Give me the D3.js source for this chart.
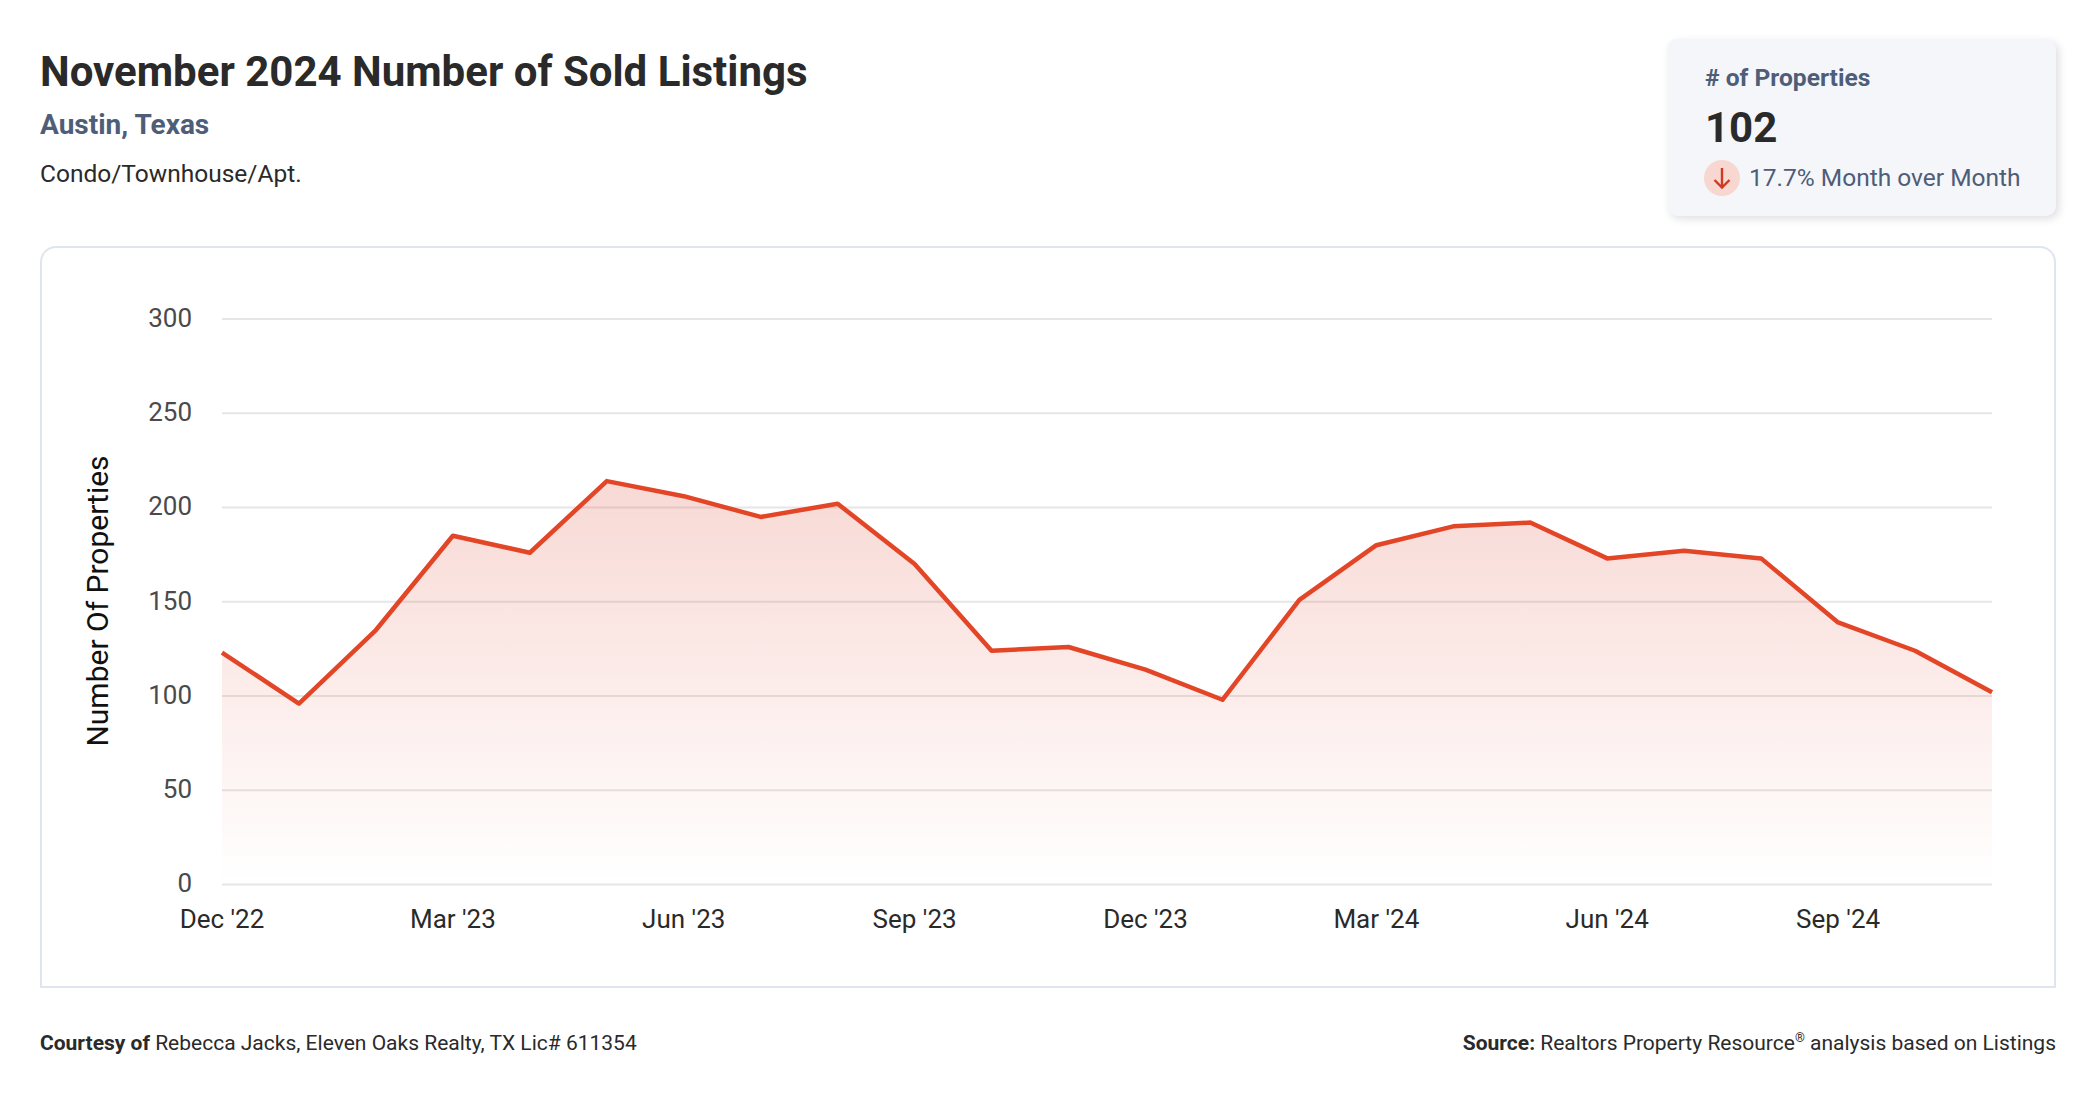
<!DOCTYPE html>
<html><head><meta charset="utf-8">
<script src="https://cdn.jsdelivr.net/npm/d3@7/dist/d3.min.js"></script>
<style>
html,body{margin:0;padding:0;background:#fff;width:2096px;height:1100px;overflow:hidden;font-family:Roboto,sans-serif}
.abs{position:absolute;white-space:nowrap}
#kpi{left:1667px;top:39px;width:389px;height:177px;background:#f5f6fa;border-radius:10px;box-shadow:3px 3px 8px rgba(0,0,0,.13)}
#frame{left:40px;top:246px;width:2012px;height:738px;border:2px solid #dfe4ee;border-radius:16px 16px 0 0}
svg{position:absolute;left:0;top:0}
</style></head><body>
<div class="abs" style="left:40px;top:48px;font-size:42px;font-weight:700;color:#2a2a2a;line-height:48px">November 2024 Number of Sold Listings</div>
<div class="abs" style="left:40px;top:109px;font-size:28px;font-weight:700;color:#4e5d78;line-height:32px">Austin, Texas</div>
<div class="abs" style="left:40px;top:160px;font-size:24.5px;color:#2a2a2a;line-height:28px">Condo/Townhouse/Apt.</div>
<div class="abs" id="kpi"></div>
<div class="abs" style="left:1705px;top:63px;font-size:24.6px;font-weight:700;color:#4e5d78;line-height:30px"># of Properties</div>
<div class="abs" style="left:1705px;top:104px;font-size:42px;font-weight:700;color:#2a2a2a;line-height:48px">102</div>
<div class="abs" style="left:1704px;top:160px;width:36px;height:36px;border-radius:50%;background:#f8d7d1"></div>
<div class="abs" style="left:1749px;top:163px;font-size:24.5px;color:#4e5d78;line-height:30px">17.7% Month over Month</div>
<div class="abs" id="frame"></div>
<div class="abs" style="left:40px;top:1031px;font-size:21px;color:#2a2a2a;line-height:24px"><b>Courtesy of</b> Rebecca Jacks, Eleven Oaks Realty, TX Lic# 611354</div>
<div class="abs" style="right:40px;top:1031px;font-size:21px;color:#2a2a2a;line-height:24px"><b>Source:</b> Realtors Property Resource<sup style="font-size:12.6px;line-height:0">®</sup> analysis based on Listings</div>
<svg id="c" width="2096" height="1100"></svg>
<script>
const months = ["Dec '22","Jan '23","Feb '23","Mar '23","Apr '23","May '23","Jun '23","Jul '23","Aug '23","Sep '23","Oct '23","Nov '23","Dec '23","Jan '24","Feb '24","Mar '24","Apr '24","May '24","Jun '24","Jul '24","Aug '24","Sep '24","Oct '24","Nov '24"];
const sold = [123,96,135,185,176,214,206,195,202,170,124,126,114,98,151,180,190,192,173,177,173,139,124,102];
const yTicks = [0,50,100,150,200,250,300];
const xTickLabels = ["Dec '22","Mar '23","Jun '23","Sep '23","Dec '23","Mar '24","Jun '24","Sep '24"];
const yLabel = "Number Of Properties";

const svg = d3.select("#c");
const x = d3.scalePoint().domain(months).range([222,1992]);
const y = d3.scaleLinear().domain([0,300]).range([884.5,319]);

const grad = svg.append("defs").append("linearGradient").attr("id","g")
  .attr("gradientUnits","userSpaceOnUse").attr("x1",0).attr("x2",0).attr("y1",y(214)).attr("y2",y(0));
grad.append("stop").attr("offset",0).attr("stop-color","#d9402a").attr("stop-opacity",.2);
grad.append("stop").attr("offset",1).attr("stop-color","#e2402a").attr("stop-opacity",0);

const gy = svg.append("g").attr("transform","translate(222,0)")
  .call(d3.axisLeft(y).offset(0).tickValues(yTicks).tickSize(-1770).tickPadding(30));
gy.select(".domain").remove();
gy.selectAll(".tick line").attr("stroke","#e6e6e6").attr("stroke-width",2);
gy.selectAll("text").attr("font-family","Roboto").attr("font-size",26).attr("fill","#4a4a4a").attr("dy","0.3em");

const gx = svg.append("g").attr("transform","translate(0,886)")
  .call(d3.axisBottom(x).offset(0).tickValues(xTickLabels).tickSize(0).tickPadding(24));
gx.select(".domain").remove();
gx.selectAll("text").attr("font-family","Roboto").attr("font-size",26).attr("fill","#2a2a2a");

svg.append("path").datum(sold).attr("fill","url(#g)")
  .attr("d",d3.area().x((d,i)=>x(months[i])).y0(y(0)).y1(d=>y(d)));
svg.append("path").datum(sold).attr("fill","none").attr("stroke","#e34527").attr("stroke-width",4.5).attr("stroke-linejoin","round")
  .attr("d",d3.line().x((d,i)=>x(months[i])).y(d=>y(d)));

svg.append("text").attr("transform","translate(100,601) rotate(-90)").attr("text-anchor","middle")
  .attr("font-family","Roboto").attr("font-size",30).attr("fill","#111").attr("dominant-baseline","middle").text(yLabel);

svg.append("path").attr("d","M1722 168V187M1714.5 180L1722 187.5L1729.5 180").attr("fill","none").attr("stroke","#cf3a22").attr("stroke-width",2.4);
</script>
</body></html>
